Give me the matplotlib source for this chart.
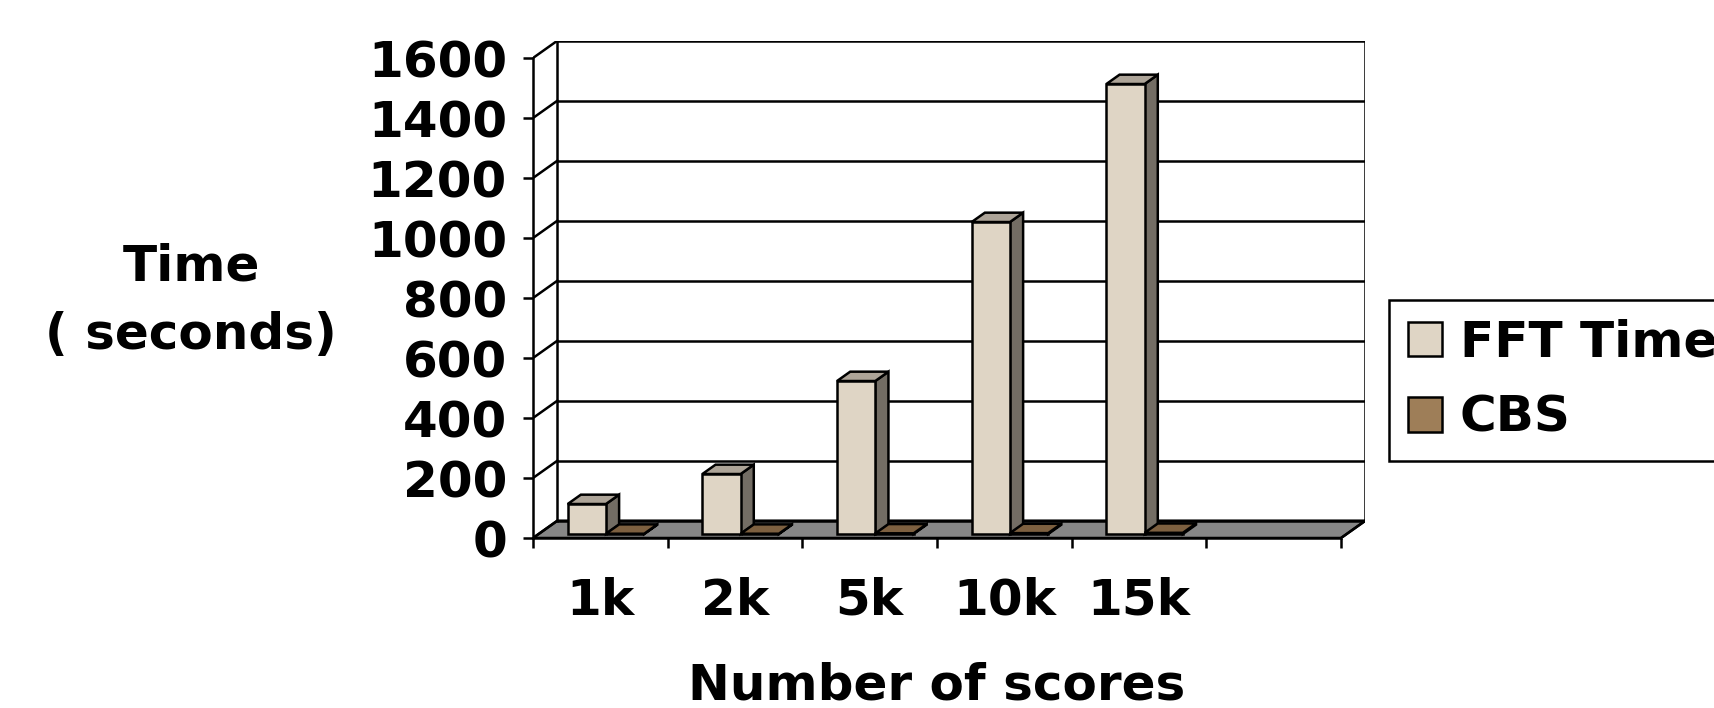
import matplotlib
matplotlib.use("Agg")
import matplotlib.pyplot as plt
from matplotlib.patches import Polygon, Patch

# data
categories = ["1k", "2k", "5k", "10k", "15k", ""]
fft_time = [100, 200, 510, 1040, 1500]
cbs_time = [1, 1, 2, 3, 4]
series_names = ["FFT Time", "CBS"]
y_ticks = [0, 200, 400, 600, 800, 1000, 1200, 1400, 1600]

W, H, DPI = 1714, 708, 100

# fake 3d: how far the back wall is shifted (data units)
DX = 0.181
DY = 57.7
D_FRONT, D_BACK = 0.23, 0.77
GAP = 0.216
BAR_W = 0.284

FFT_COLORS = ("#DFD5C5", "#ADA498", "#736D64")   # front, top, side
CBS_COLORS = ("#9E7E58", "#7D6040", "#5E4A30")
FLOOR = "#878787"
LW = 1.8
FS = 36


def proj(x, v, d):
    return (x + d * DX, v + d * DY)


fig = plt.figure(figsize=(W / DPI, H / DPI), dpi=DPI)
n = len(categories)
x_max = n + DX
y_max = y_ticks[-1] + DY
px_left, px_right = 533, 1365.4
px_bottom = 538
px_h = y_max * 0.3
ax = fig.add_axes([px_left / W, 1 - px_bottom / H, (px_right - px_left) / W, px_h / H])
ax.set_xlim(0, x_max)
ax.set_ylim(0, y_max)
ax.patch.set_visible(False)

# floor
ax.add_patch(Polygon([proj(0, 0, 0), proj(n, 0, 0), proj(n, 0, 1), proj(0, 0, 1)],
                     closed=True, fc=FLOOR, ec="black", lw=LW, zorder=1))

# back wall gridlines + side connectors
for v in y_ticks:
    ax.plot([DX, n + DX], [v + DY, v + DY], color="black", lw=LW, zorder=1.5,
            solid_capstyle="butt")
    ax.plot([0, DX], [v, v + DY], color="black", lw=LW, zorder=1.5)
top = y_ticks[-1]
ax.plot([DX, DX], [DY, top + DY], color="black", lw=LW, zorder=1.5)
ax.plot([n + DX, n + DX], [DY, top + DY], color="black", lw=LW, zorder=1.5)
ax.plot([n, n + DX], [0, DY], color="black", lw=LW, zorder=1.5)


def draw_bar(x0, h, colors):
    x1 = x0 + BAR_W
    front, topc, side = colors
    kw = dict(closed=True, ec="black", lw=LW, zorder=3, joinstyle="miter")
    ax.add_patch(Polygon([proj(x1, 0, D_FRONT), proj(x1, 0, D_BACK),
                          proj(x1, h, D_BACK), proj(x1, h, D_FRONT)], fc=side, **kw))
    ax.add_patch(Polygon([proj(x0, h, D_FRONT), proj(x1, h, D_FRONT),
                          proj(x1, h, D_BACK), proj(x0, h, D_BACK)], fc=topc, **kw))
    ax.add_patch(Polygon([proj(x0, 0, D_FRONT), proj(x1, 0, D_FRONT),
                          proj(x1, h, D_FRONT), proj(x0, h, D_FRONT)], fc=front, **kw))


for i, (f, c) in enumerate(zip(fft_time, cbs_time)):
    draw_bar(i + GAP, f, FFT_COLORS)
    draw_bar(i + GAP + BAR_W, c, CBS_COLORS)

# axes
for s in ("top", "right"):
    ax.spines[s].set_visible(False)
ax.spines["left"].set_bounds(0, top)
ax.spines["bottom"].set_bounds(0, n)
ax.spines["left"].set_linewidth(LW)
ax.spines["bottom"].set_linewidth(LW)

ax.set_yticks(y_ticks)
ax.set_yticklabels([str(v) for v in y_ticks], fontsize=FS, fontweight="bold")
ax.tick_params(axis="y", direction="out", length=7.2, width=LW, pad=11.5)

ax.set_xticks(range(n + 1))
ax.set_xticklabels([])
ax.set_xticks([i + 0.5 for i in range(n)], minor=True)
ax.set_xticklabels(categories, minor=True, fontsize=FS, fontweight="bold")
ax.tick_params(axis="x", which="major", direction="out", length=7.2, width=LW)
ax.tick_params(axis="x", which="minor", length=0, pad=28)

fig.text(191 / W, 1 - 301 / H, "Time\n( seconds)", ha="center", va="center",
         fontsize=FS, fontweight="bold", linespacing=1.55)
fig.text(937 / W, 9 / H, "Number of scores", ha="center", va="baseline",
         fontsize=FS, fontweight="bold")

handles = [Patch(fc=FFT_COLORS[0], ec="black", lw=LW),
           Patch(fc=CBS_COLORS[0], ec="black", lw=LW)]
leg = fig.legend(handles, series_names, loc="upper left",
                 bbox_to_anchor=(1389 / W, 1 - 300 / H), borderaxespad=0,
                 frameon=True, fancybox=False, edgecolor="black", framealpha=1,
                 prop={"size": FS, "weight": "bold"}, handlelength=0.68,
                 handleheight=0.68, handletextpad=0.36, borderpad=0.37,
                 labelspacing=0.55)
leg.get_frame().set_linewidth(LW)

fig.savefig("out.png", dpi=DPI)
